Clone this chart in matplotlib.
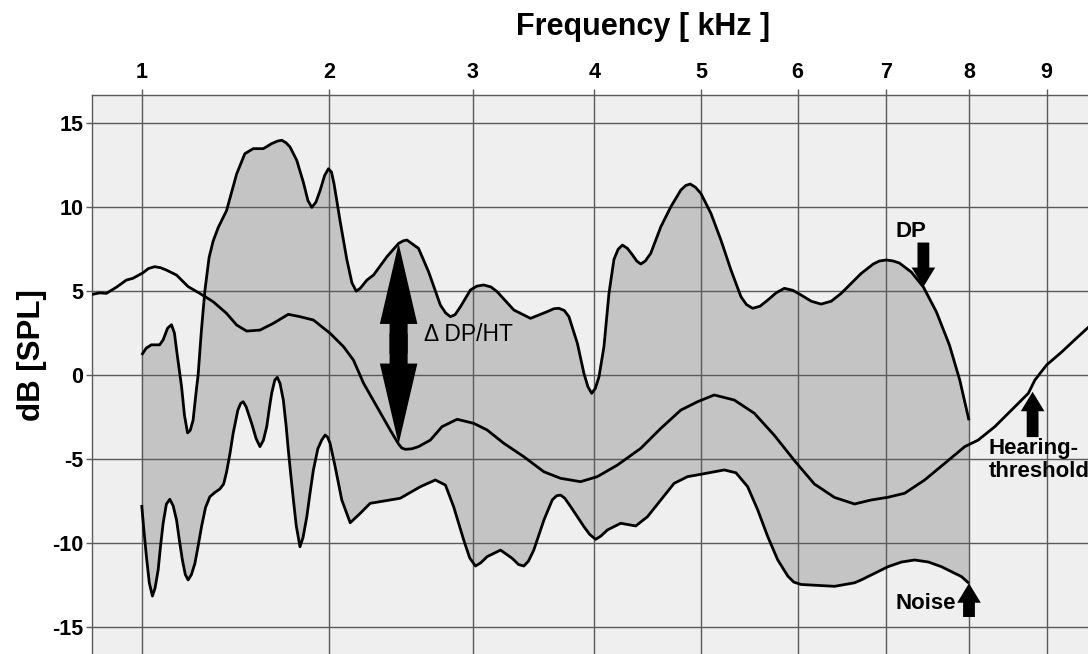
import numpy as np
import matplotlib
matplotlib.use("Agg")
import matplotlib.pyplot as plt
from matplotlib.patches import FancyArrowPatch

plt.rcParams['font.family'] = ['Liberation Sans', 'DejaVu Sans']

# Distortion-product level (upper boundary of the shaded band)
dp_khz = [1.000, 1.020, 1.043, 1.081, 1.097, 1.118, 1.136, 1.150, 1.160, 1.172,
          1.184, 1.198, 1.213, 1.226, 1.240, 1.257, 1.265, 1.281, 1.2985, 1.320,
          1.341, 1.367, 1.410, 1.464, 1.508, 1.554, 1.610, 1.657, 1.690, 1.715,
          1.740, 1.763, 1.803, 1.842, 1.870, 1.893, 1.918, 1.944, 1.972, 1.996,
          2.015, 2.031, 2.069, 2.112, 2.145, 2.173, 2.199, 2.243, 2.287, 2.378,
          2.458, 2.490, 2.516, 2.598, 2.670, 2.756, 2.795, 2.830, 2.865, 2.905,
          2.981, 3.030, 3.083, 3.140, 3.188, 3.321, 3.457, 3.596, 3.650, 3.694,
          3.740, 3.780, 3.853, 3.910, 3.945, 3.978, 4.010, 4.043, 4.087, 4.132,
          4.177, 4.215, 4.254, 4.300, 4.346, 4.385, 4.423, 4.465, 4.516, 4.611,
          4.707, 4.803, 4.850, 4.894, 4.945, 4.999, 5.099, 5.199, 5.301, 5.403,
          5.460, 5.524, 5.600, 5.682, 5.770, 5.858, 5.950, 6.039, 6.150, 6.258,
          6.370, 6.482, 6.709, 6.848, 6.920, 6.999, 7.080, 7.153, 7.295, 7.440,
          7.598, 7.757, 7.885, 8.000]
dp_db = [1.2, 1.6, 1.8, 1.8, 2.1, 2.8, 3.0, 2.5, 1.5, 0.4,
         -0.7, -2.4, -3.45, -3.3, -2.7, -0.8, 0.0, 2.6, 5.0, 7.0,
         8.0, 8.8, 9.8, 12.0, 13.2, 13.5, 13.5, 13.8, 13.95, 14.0,
         13.85, 13.6, 12.8, 11.5, 10.4, 10.0, 10.3, 11.0, 11.9, 12.3,
         12.1, 11.4, 9.2, 6.9, 5.5, 5.0, 5.17, 5.66, 5.96, 7.06,
         7.85, 8.0, 8.05, 7.55, 6.16, 4.17, 3.7, 3.48, 3.6, 4.07,
         5.07, 5.3, 5.37, 5.25, 4.97, 3.88, 3.38, 3.78, 3.95, 3.98,
         3.85, 3.48, 1.89, 0.10, -0.7, -1.09, -0.8, -0.10, 1.69, 4.87,
         6.9, 7.5, 7.75, 7.55, 7.16, 6.8, 6.62, 6.8, 7.26, 8.84,
         10.04, 11.03, 11.3, 11.39, 11.2, 10.83, 9.64, 8.05, 6.26, 4.67,
         4.2, 3.98, 4.1, 4.47, 4.9, 5.17, 5.05, 4.77, 4.4, 4.23,
         4.4, 4.87, 6.06, 6.62, 6.8, 6.86, 6.8, 6.68, 6.14, 5.25,
         3.76, 1.79, -0.30, -2.7]

# Hearing threshold
ht_khz = [0.790, 0.823, 0.850, 0.891, 0.933, 0.962, 1.006, 1.030, 1.058, 1.085,
          1.112, 1.160, 1.216, 1.273, 1.341, 1.410, 1.464, 1.518, 1.591, 1.666,
          1.753, 1.822, 1.903, 2.006, 2.091, 2.155, 2.221, 2.310, 2.400, 2.458,
          2.480, 2.504, 2.550, 2.598, 2.683, 2.768, 2.880, 3.006, 3.110, 3.241,
          3.402, 3.568, 3.709, 3.881, 4.028, 4.208, 4.423, 4.611, 4.803, 4.967,
          5.132, 5.334, 5.541, 5.752, 5.966, 6.184, 6.407, 6.633, 6.825, 7.019,
          7.216, 7.455, 7.699, 7.947, 8.115, 8.326, 8.584, 8.759, 8.845, 9.000,
          9.200, 9.403, 9.580, 9.700]
ht_db = [4.8, 4.9, 4.87, 5.23, 5.66, 5.77, 6.10, 6.35, 6.46, 6.4,
         6.26, 5.96, 5.27, 4.87, 4.37, 3.68, 2.98, 2.62, 2.68, 3.08,
         3.62, 3.48, 3.28, 2.49, 1.69, 0.89, -0.49, -1.89, -3.28, -4.12,
         -4.35, -4.43, -4.4, -4.27, -3.88, -3.08, -2.64, -2.88, -3.28, -4.07,
         -4.87, -5.77, -6.16, -6.36, -6.06, -5.37, -4.37, -3.18, -2.09, -1.59,
         -1.19, -1.49, -2.28, -3.6, -5.1, -6.5, -7.3, -7.69, -7.45, -7.29,
         -7.05, -6.26, -5.27, -4.27, -3.88, -3.08, -1.89, -1.09, -0.30, 0.6,
         1.37, 2.21, 2.92, 3.5]

# Noise floor (lower boundary of the shaded band)
noise_khz = [1.000, 1.010, 1.021, 1.034, 1.048, 1.060, 1.074, 1.085, 1.097, 1.112,
             1.128, 1.144, 1.160, 1.174, 1.188, 1.202, 1.216, 1.232, 1.249, 1.265,
             1.282, 1.302, 1.324, 1.350, 1.375, 1.395, 1.410, 1.428, 1.445, 1.470,
             1.485, 1.499, 1.515, 1.545, 1.570, 1.591, 1.610, 1.629, 1.645, 1.657,
             1.675, 1.689, 1.705, 1.724, 1.740, 1.753, 1.768, 1.783, 1.800, 1.822,
             1.840, 1.863, 1.883, 1.903, 1.930, 1.954, 1.975, 1.990, 2.006, 2.038,
             2.080, 2.134, 2.199, 2.265, 2.332, 2.469, 2.611, 2.719, 2.793, 2.854,
             2.930, 2.975, 3.019, 3.060, 3.110, 3.215, 3.308, 3.360, 3.402, 3.440,
             3.484, 3.568, 3.638, 3.675, 3.709, 3.745, 3.795, 3.910, 3.960, 4.013,
             4.060, 4.118, 4.238, 4.376, 4.485, 4.611, 4.738, 4.868, 4.999, 5.132,
             5.233, 5.352, 5.472, 5.577, 5.682, 5.788, 5.895, 5.960, 6.039, 6.407,
             6.633, 6.709, 7.019, 7.180, 7.335, 7.500, 7.659, 7.906, 8.000]
noise_db = [-7.75, -9.3, -10.83, -12.4, -13.18, -12.7, -11.63, -10.2, -8.84, -7.7,
            -7.41, -7.8, -8.65, -9.9, -11.03, -11.9, -12.22, -11.9, -11.23, -10.2,
            -9.04, -7.9, -7.26, -7.0, -6.8, -6.5, -5.8, -4.7, -3.48, -2.1,
            -1.7, -1.59, -1.9, -2.88, -3.8, -4.27, -3.9, -3.08, -1.9, -1.09,
            -0.3, -0.14, -0.5, -1.49, -3.0, -4.47, -6.0, -7.45, -9.0, -10.24,
            -9.7, -8.45, -7.0, -5.66, -4.4, -3.88, -3.58, -3.7, -4.07, -5.47,
            -7.45, -8.81, -8.25, -7.65, -7.55, -7.35, -6.66, -6.26, -6.56, -7.85,
            -9.84, -10.9, -11.39, -11.2, -10.83, -10.44, -10.93, -11.3, -11.39, -11.1,
            -10.44, -8.65, -7.45, -7.2, -7.16, -7.35, -7.85, -9.04, -9.5, -9.80,
            -9.6, -9.24, -8.84, -9.00, -8.45, -7.45, -6.46, -6.06, -5.92, -5.77,
            -5.66, -5.83, -6.66, -8.05, -9.64, -11.03, -11.99, -12.35, -12.49, -12.6,
            -12.39, -12.22, -11.43, -11.15, -11.03, -11.15, -11.43, -12.02, -12.42]

freq_ticks = [1, 2, 3, 4, 5, 6, 7, 8, 9]
db_ticks = [-15, -10, -5, 0, 5, 10, 15]

grid_col = '#5a5a5a'

fig = plt.figure(figsize=(10.88, 6.54), dpi=100)
ax = fig.add_axes([0.08456, -0.00933, 0.9449, 0.8641])
ax.set_facecolor('#efefef')
ax.set_xscale('function', functions=(lambda v: np.sqrt(np.clip(v, 0, None)), np.square))
ax.set_xlim(0.7924, 10)
ax.set_ylim(-17, 16.7)

# shaded band between DP and noise floor
band_x = np.concatenate([dp_khz, noise_khz[::-1]])
band_y = np.concatenate([dp_db, noise_db[::-1]])
ax.fill(band_x, band_y, color='#c4c4c4', lw=0, zorder=1)

line_kw = dict(color='black', lw=2.0, zorder=3, solid_joinstyle='round')
ax.plot(dp_khz, dp_db, solid_capstyle='butt', **line_kw)
ax.plot(ht_khz, ht_db, **line_kw)
ax.plot(noise_khz, noise_db, solid_capstyle='butt', **line_kw)

# axes, ticks, grid
ax.set_axisbelow(False)
ax.grid(True, color=grid_col, lw=1.0, zorder=2)
ax.set_xticks(freq_ticks)
ax.set_xticklabels([str(v) for v in freq_ticks])
ax.set_yticks(db_ticks)
ax.set_yticklabels([str(v) for v in db_ticks])
ax.minorticks_off()
ax.xaxis.tick_top()
ax.tick_params(axis='x', length=4.3, width=1, color=grid_col, pad=4, labelsize=15.5)
ax.tick_params(axis='y', length=4.3, width=1, color=grid_col, pad=2, labelsize=15.5)
for lab in ax.get_xticklabels() + ax.get_yticklabels():
    lab.set_fontweight('bold')
for sp in ax.spines.values():
    sp.set_color(grid_col)
    sp.set_linewidth(1.0)

fig.text(643.5 / 1088, 1 - 35 / 654, 'Frequency [ kHz ]', ha='center', va='baseline',
         fontsize=22, fontweight='bold')
fig.text(32 / 1088, 1 - 355 / 654, 'dB [SPL]', rotation=90, ha='center', va='center',
         fontsize=22.5, fontweight='bold')

# double arrow between DP peak and hearing threshold
f_gap = 2.458
gap_top = np.interp(f_gap, dp_khz, dp_db)
gap_bot = np.interp(f_gap, ht_khz, ht_db)
gap_mid = 0.5 * (gap_top + gap_bot)
big = "simple,head_length=58,head_width=27,tail_width=13"
for start, end in ((gap_mid - 0.6, gap_top), (gap_mid + 0.6, gap_bot)):
    ax.add_patch(FancyArrowPatch((f_gap, start), (f_gap, end), arrowstyle=big,
                                 mutation_scale=1, color='black', lw=0,
                                 shrinkA=0, shrinkB=0, zorder=4))
ax.text(2.639, 2.39, 'Δ DP/HT', ha='left', va='center', fontsize=16.5, zorder=5)

# small marker arrows
small = "simple,head_length=14,head_width=17,tail_width=8.5"
marker_arrows = [((7.44, 7.9), (7.44, np.interp(7.44, dp_khz, dp_db))),
                 ((8.815, -3.70), (8.815, -1.0)),
                 ((noise_khz[-1], -14.43), (noise_khz[-1], noise_db[-1]))]
for start, tip in marker_arrows:
    ax.add_patch(FancyArrowPatch(start, tip, arrowstyle=small, mutation_scale=1,
                                 color='black', lw=0, shrinkA=0, shrinkB=0, zorder=4))

ax.text(7.295, 8.53, 'DP', ha='center', va='center', fontsize=16, fontweight='bold')
ax.text(8.243, -5.07, 'Hearing-\nthreshold', ha='left', va='center', fontsize=16,
        fontweight='bold', linespacing=1.1)
ax.text(7.844, -13.6, 'Noise', ha='right', va='center', fontsize=16, fontweight='bold')

fig.savefig('out.png', dpi=100)
